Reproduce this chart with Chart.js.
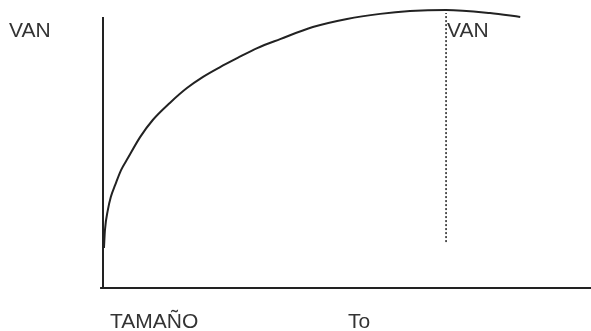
<!DOCTYPE html>
<html>
<head>
<meta charset="utf-8">
<script src="https://cdn.jsdelivr.net/npm/chart.js@4"></script>
<style>
  html, body { margin: 0; padding: 0; background: #fff; }
  #wrap { width: 591px; height: 331px; position: relative; }
</style>
</head>
<body>
<div id="wrap"><canvas id="vanChart"></canvas></div>
<script>
// curva VAN vs tamaño (escala 0-100)
const tamano = [0.2, 0.4, 1.0, 1.6, 2.5, 3.7, 5.1, 7.6, 10.2, 13.7, 17.2, 20.5, 24.0, 27.5, 31.6, 36.3, 43.0, 50.0, 56.8, 62.9, 70.3, 79.3, 85.5];
const van = [14.3, 20.7, 27.9, 32.5, 36.8, 42.1, 46.4, 53.9, 60.0, 66.1, 71.4, 75.4, 78.9, 82.1, 85.7, 88.9, 93.2, 96.1, 97.9, 98.9, 99.3, 98.2, 96.8];

// tamaño optimo (linea punteada)
const optimoX = [70.3, 70.3];
const optimoY = [16.4, 98.2];

// etiquetas
const etiquetaEjeY = 'VAN';
const etiquetaMax = 'VAN';
const etiquetaEjeX = 'TAMAÑO';
const etiquetaOptimo = 'To';

const curva = tamano.map((x, i) => ({ x: x, y: van[i] }));
const optimo = optimoX.map((x, i) => ({ x: x, y: optimoY[i] }));

// dibuja ejes y textos
const ejesYTextos = {
    id: 'ejesYTextos',
    afterDraw(chart) {
        const ctx = chart.ctx;
        const xs = chart.scales.x;
        const ys = chart.scales.y;
        const x0 = xs.getPixelForValue(0);
        const y0 = ys.getPixelForValue(0);
        ctx.save();
        ctx.strokeStyle = '#222';
        ctx.lineWidth = 2;
        ctx.beginPath();
        ctx.moveTo(x0, ys.getPixelForValue(96.8));
        ctx.lineTo(x0, y0);
        ctx.moveTo(xs.getPixelForValue(-0.6), y0);
        ctx.lineTo(xs.getPixelForValue(100), y0);
        ctx.stroke();

        ctx.fillStyle = '#333';
        ctx.font = '21px "Liberation Sans", Arial, sans-serif';
        ctx.textBaseline = 'alphabetic';
        ctx.fillText(etiquetaEjeY, 9, 37);
        ctx.fillText(etiquetaMax, xs.getPixelForValue(optimoX[0]) + 1, 37);
        ctx.fillText(etiquetaEjeX, 110, 328);
        ctx.fillText(etiquetaOptimo, 348, 328);
        ctx.restore();
    }
};

new Chart(document.getElementById('vanChart'), {
    type: 'scatter',
    data: {
        datasets: [{
            data: curva,
            showLine: true,
            borderColor: '#222',
            borderWidth: 2,
            pointRadius: 0,
            cubicInterpolationMode: 'monotone'
        }, {
            data: optimo,
            showLine: true,
            borderColor: '#222',
            borderWidth: 1.5,
            borderDash: [2, 2],
            pointRadius: 0
        }]
    },
    options: {
        responsive: true,
        maintainAspectRatio: false,
        animation: false,
        layout: { padding: { left: 103, right: 0, top: 8, bottom: 43 } },
        plugins: {
            legend: { display: false },
            tooltip: { enabled: false }
        },
        scales: {
            x: { type: 'linear', min: 0, max: 100, display: false },
            y: { type: 'linear', min: 0, max: 100, display: false }
        }
    },
    plugins: [ejesYTextos]
});
</script>
</body>
</html>
